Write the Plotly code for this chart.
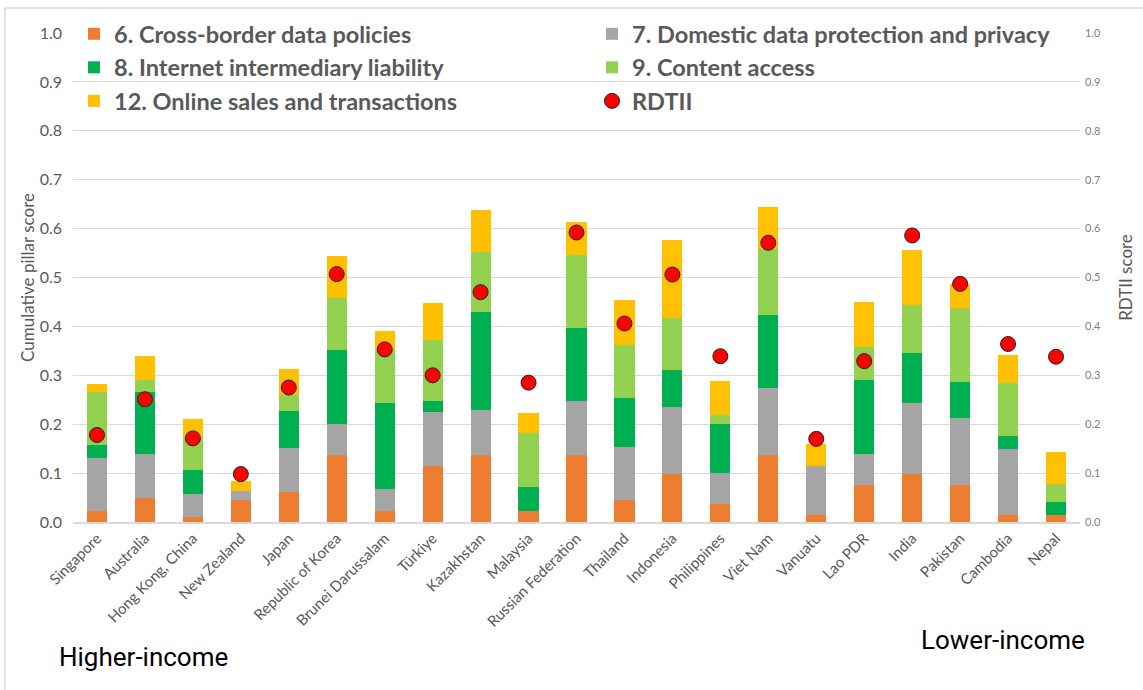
import plotly.graph_objects as go

countries = ["Singapore", "Australia", "Hong Kong, China", "New Zealand", "Japan",
             "Republic of Korea", "Brunei Darussalam", "Türkiye", "Kazakhstan", "Malaysia",
             "Russian Federation", "Thailand", "Indonesia", "Philippines", "Viet Nam",
             "Vanuatu", "Lao PDR", "India", "Pakistan", "Cambodia", "Nepal"]

p6_cross_border = [0.022, 0.049, 0.011, 0.046, 0.061, 0.138, 0.022, 0.115, 0.137, 0.022,
                   0.137, 0.045, 0.099, 0.037, 0.137, 0.014, 0.076, 0.099, 0.076, 0.014, 0.014]
p7_domestic = [0.109, 0.091, 0.046, 0.018, 0.091, 0.063, 0.046, 0.109, 0.092, 0.0,
               0.110, 0.108, 0.136, 0.064, 0.137, 0.100, 0.064, 0.145, 0.136, 0.136, 0.0]
p8_intermediary = [0.026, 0.125, 0.050, 0.0, 0.074, 0.151, 0.175, 0.024, 0.200, 0.050,
                   0.149, 0.101, 0.075, 0.099, 0.149, 0.0, 0.150, 0.101, 0.074, 0.026, 0.026]
p9_content = [0.108, 0.025, 0.065, 0.0, 0.034, 0.107, 0.109, 0.125, 0.124, 0.109,
              0.151, 0.108, 0.108, 0.018, 0.135, 0.0, 0.067, 0.099, 0.152, 0.108, 0.037]
p12_online = [0.017, 0.049, 0.039, 0.020, 0.053, 0.086, 0.039, 0.075, 0.085, 0.041,
              0.067, 0.091, 0.159, 0.070, 0.087, 0.045, 0.093, 0.113, 0.049, 0.058, 0.067]
rdtii = [0.178, 0.251, 0.171, 0.098, 0.275, 0.507, 0.353, 0.300, 0.470, 0.285,
         0.592, 0.406, 0.506, 0.339, 0.571, 0.170, 0.329, 0.586, 0.487, 0.364, 0.338]

tick_vals = [0.0, 0.1, 0.2, 0.3, 0.4, 0.5, 0.6, 0.7, 0.8, 0.9, 1.0]
tick_text = ["0.0", "0.1", "0.2", "0.3", "0.4", "0.5", "0.6", "0.7", "0.8", "0.9", "1.0"]

series = [
    ("6. Cross-border data policies", p6_cross_border, "#ED7D31", "legend"),
    ("7. Domestic data protection and privacy", p7_domestic, "#A5A5A5", "legend2"),
    ("8. Internet intermediary liability", p8_intermediary, "#00B050", "legend"),
    ("9. Content access", p9_content, "#92D050", "legend2"),
    ("12. Online sales and transactions", p12_online, "#FFC000", "legend"),
]

FONT = "Lato"
fig = go.Figure()
for i, (name, vals, color, leg) in enumerate(series):
    fig.add_trace(go.Bar(
        x=countries, y=vals, name=name, marker=dict(color=color, line=dict(width=0)),
        legend=leg, legendgroup=f"g{i}"))

fig.add_trace(go.Scatter(
    x=countries, y=rdtii, name="RDTII", mode="markers", yaxis="y2",
    marker=dict(color="#FF0000", size=15, line=dict(color="#222222", width=1)),
    legend="legend2", legendgroup="g5"))

W, H = 1143, 690
L, R, T, B = 73, 63, 33, 168
pw, ph = W - L - R, H - T - B

def px(xp):
    return (xp - L) / pw

def py(yp):
    return (H - B - yp) / ph

legend_common = dict(
    bgcolor="rgba(0,0,0,0)", font=dict(family=FONT, size=23.5, color="#595959", weight="bold"),
    traceorder="grouped", tracegroupgap=0, yanchor="top", xanchor="left",
    itemclick=False, itemdoubleclick=False)

fig.update_layout(
    width=W, height=H,
    margin=dict(l=L, r=R, t=T, b=B, autoexpand=False),
    paper_bgcolor="white", plot_bgcolor="white",
    barmode="stack", bargap=0.58,
    font=dict(family=FONT, color="#595959"),
    showlegend=True,
    legend=dict(x=px(74), y=py(12), **legend_common),
    legend2=dict(x=px(592), y=py(12), **legend_common),
    xaxis=dict(
        range=[-0.5, len(countries) - 0.5],
        tickangle=-45, tickfont=dict(family=FONT, size=15, color="#595959"), automargin=False,
        showline=True, linecolor="#D9D9D9", linewidth=1.5, showgrid=False, ticks=""),
    yaxis=dict(
        range=[0, 1.0], tickvals=tick_vals, ticktext=tick_text, automargin=False,
        tickfont=dict(family=FONT, size=16, color="#595959"), ticklabelstandoff=10,
        gridcolor="#D9D9D9", gridwidth=1, zeroline=False, showline=False,
        title=dict(text="Cumulative pillar score", font=dict(family=FONT, size=17, color="#595959"), standoff=0)),
    yaxis2=dict(
        range=[0, 1.0], tickvals=tick_vals, ticktext=tick_text, overlaying="y", side="right",
        automargin=False, ticklabelstandoff=4,
        tickfont=dict(family=FONT, size=11, color="#7F7F7F"), showgrid=False, zeroline=False,
        title=dict(text="RDTII score", font=dict(family=FONT, size=17, color="#595959"), standoff=20)),
    shapes=[dict(type="rect", xref="paper", yref="paper",
                 x0=px(5), x1=px(1160), y0=py(710), y1=py(8),
                 line=dict(color="#D9D9D9", width=1.5), layer="above")],
    annotations=[
        dict(text="Higher-income", xref="paper", yref="paper", x=px(57), y=py(657),
             xanchor="left", yanchor="middle", showarrow=False,
             font=dict(family="Roboto", size=26, color="#000000")),
        dict(text="Lower-income", xref="paper", yref="paper", x=px(919), y=py(640),
             xanchor="left", yanchor="middle", showarrow=False,
             font=dict(family="Roboto", size=26, color="#000000")),
    ],
)

fig.write_html("out.html", config={"displayModeBar": False},
               post_script="document.body.style.margin='0px';")
